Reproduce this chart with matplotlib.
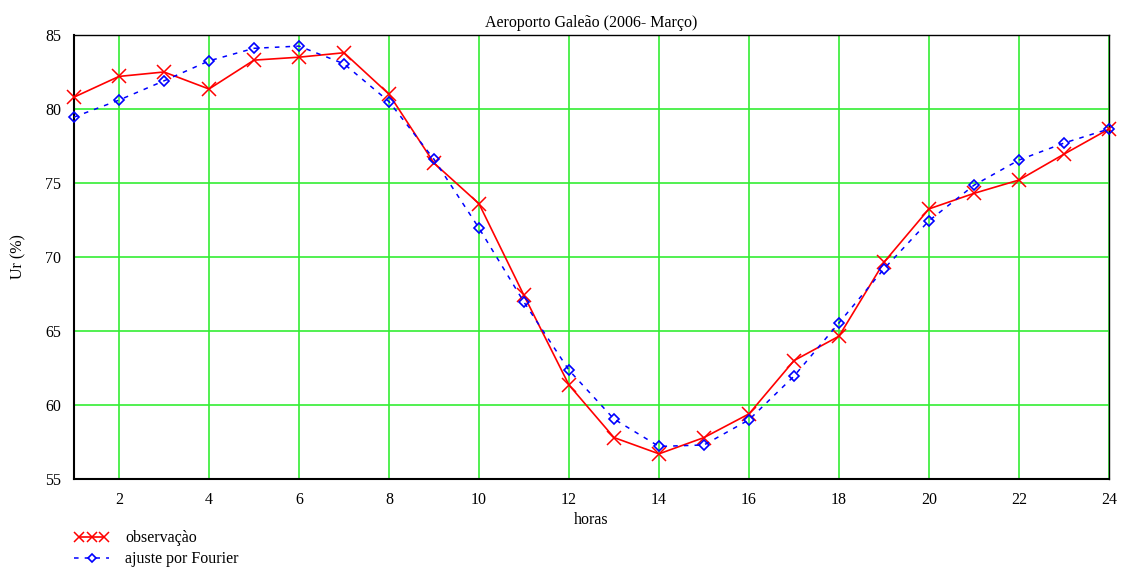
import matplotlib
matplotlib.use("Agg")
import matplotlib.pyplot as plt
from matplotlib.legend_handler import HandlerLine2D

plt.rcParams['font.family'] = ['Liberation Serif', 'DejaVu Serif']

horas = list(range(1, 25))
observacao = [80.8, 82.2, 82.5, 81.35, 83.3, 83.5, 83.8, 81.0, 76.35, 73.6, 67.4, 61.35,
              57.8, 56.7, 57.8, 59.4, 63.0, 64.65, 69.65, 73.25, 74.3, 75.2, 76.95, 78.65]
fourier = [79.45, 80.6, 81.9, 83.25, 84.1, 84.25, 83.05, 80.5, 76.6, 71.95, 66.95, 62.35,
           59.05, 57.2, 57.3, 59.0, 61.95, 65.55, 69.2, 72.45, 74.85, 76.55, 77.7, 78.65]
xticks = list(range(2, 25, 2))
yticks = [55, 60, 65, 70, 75, 80, 85]

fig = plt.figure(figsize=(11.21, 5.67), dpi=100)
ax = fig.add_axes([0.066, 0.1552, 0.9233, 0.7831])

ax.set_xlim(1, 24)
ax.set_ylim(55, 85)
ax.set_xticks(xticks)
ax.set_yticks(yticks)
ax.grid(True, color='#33ee33', linewidth=1.2)
ax.set_axisbelow(True)
ax.tick_params(length=0, labelsize=11.5, pad=9)

l1, = ax.plot(horas, observacao, color='red', linewidth=1.2, marker='x',
              markersize=10, markeredgewidth=1.1, label='observaçào', clip_on=False, zorder=3)
l2, = ax.plot(horas, fourier, color='blue', linewidth=1.1, linestyle=(0, (3, 4)),
              marker='D', markersize=5, markerfacecolor='none', markeredgewidth=1.2,
              label='ajuste por Fourier', clip_on=False, zorder=4)

for s in ax.spines.values():
    s.set_color('black')
    s.set_linewidth(1.0)
ax.spines['left'].set_linewidth(1.5)
ax.spines['bottom'].set_linewidth(1.5)

ax.set_title('Aeroporto Galeão (2006- Março)', fontsize=11.5, pad=6)
ax.set_xlabel('horas', fontsize=11.5, labelpad=3)
ax.set_ylabel('Ur (%)', fontsize=11.5, labelpad=14)

fig.legend(handles=[l1, l2], loc='lower left', bbox_to_anchor=(0.056, -0.02),
           frameon=False, fontsize=11.5, handlelength=2.2, handletextpad=1.0,
           labelspacing=0.3, borderpad=0.2, markerscale=0.75,
           handler_map={l1: HandlerLine2D(numpoints=3), l2: HandlerLine2D(numpoints=1)})

fig.savefig('out.png', dpi=100)
